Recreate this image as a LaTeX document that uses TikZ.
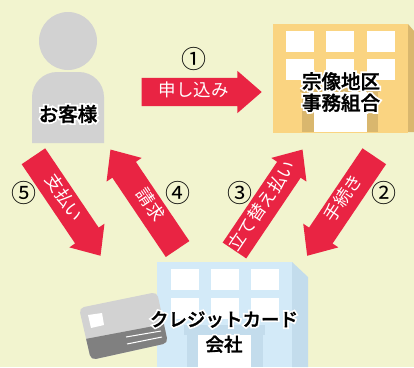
\documentclass[tikz,border=0pt]{standalone}
\usepackage{fontspec}
\usetikzlibrary{shapes.arrows}
\setmainfont{Noto Sans CJK JP}
\newfontfamily\labelfont[FakeBold=1.5]{Noto Sans CJK JP Medium}
\newfontfamily\halofont[FakeBold=20]{Noto Sans CJK JP Medium}
\newcommand{\halotext}[1]{\leavevmode\rlap{\color{white}\halofont #1}{\labelfont #1}}
\definecolor{paper}{HTML}{F2F4CF}
\definecolor{alarm}{HTML}{E92443}
\definecolor{personGray}{HTML}{D2D2D2}
\definecolor{cardDark}{HTML}{808080}
\definecolor{sandWall}{HTML}{FAD481}
\definecolor{sandDark}{HTML}{D9B76E}
\definecolor{skyWall}{HTML}{D3EAF8}
\definecolor{skyDark}{HTML}{C3DCEC}
\tikzset{
    flowarrow/.style={single arrow, fill=alarm, text=white, inner xsep=0pt, inner ysep=6pt,
        text height=12pt, text depth=4pt, minimum height=120pt,
        single arrow head extend=7pt, single arrow tip angle=82, single arrow head indent=0pt,
        font=\fontsize{17.5}{18}\selectfont},
    stepnum/.style={inner sep=0pt, font=\fontsize{25}{26}\selectfont},
    namelabel/.style={inner sep=0pt, align=center, font=\fontsize{19.5}{21.5}\selectfont}
}
\begin{document}
\begin{tikzpicture}[x=1pt,y=-1pt]
    \useasboundingbox (0,0) rectangle (414,367);
    \fill[paper] (0,0) rectangle (414,367);
    % customer
    \fill[personGray] (68,41) circle (29);
    \fill[personGray, rounded corners=25pt] (32,143) -- (32,72) -- (104,72) -- (104,143);
    % orange building
    \fill[sandDark] (408,24) -- (414,31) -- (414,132) -- (408,132) -- cycle;
    \fill[sandWall] (273,24) rectangle (408,133);
    \fill[sandDark] (300,88) rectangle (380,92);
    \fill[sandDark] (302,92) rectangle (378,132);
    \fill[white] (314,92) rectangle (367,132);
    \foreach \x in {286,326,367} {
        \fill[white] (\x,31) rectangle ++(28,21);
        \fill[white] (\x,59) rectangle ++(28,21);
    }
    % blue building
    \fill[skyDark] (292,262) -- (308,277) -- (308,367) -- (292,367) -- cycle;
    \fill[skyWall] (157,262) rectangle (292,367);
    \fill[skyDark] (184,325) rectangle (265,335);
    \fill[skyDark] (187,335) rectangle (263,367);
    \fill[white] (198,335) rectangle (251,367);
    \foreach \x in {171,211,251} {
        \fill[white] (\x,269) rectangle ++(28,21);
        \fill[white] (\x,298) rectangle ++(28,21);
    }
    % card
    \begin{scope}
        \clip[rounded corners=5pt] (79,308) -- (157,292) -- (168,343) -- (91,360) -- cycle;
        \fill[personGray] (70,285) rectangle (175,365);
        \fill[cardDark] (80,340) -- (170,323) -- (175,365) -- (85,365) -- cycle;
    \end{scope}
    \fill[white] (88,315) -- (102,313) -- (104,325) -- (91,328) -- cycle;
    \draw[white, line width=1pt] (126,337) -- (161,331);
    \draw[white, line width=1pt] (127,344) -- (162,337);
    % arrows
    \foreach \name/\tipx/\tipy/\rot/\flip/\txt in {
        apply/262/92/0/0/申し込み,
        proc/307/256/56/180/手続き,
        advance/302.7/149.3/56/0/立て替え払い,
        bill/110.3/149.3/-56/180/請求,
        pay/100.7/256/-56/0/支払い} {
        \node[flowarrow, anchor=tip, rotate=\rot, shape border rotate=\flip] (\name) at (\tipx,\tipy) {\txt};
    }
    % numbers
    \foreach \name/\x/\y/\txt in {one/194/59/①,two/384/193/②,three/240/193/③,four/178/193/④,five/24/193/⑤} {
        \node[stepnum] (\name) at (\x,\y) {\txt};
    }
    % names
    \node[namelabel] (customer) at (68,114) {\halotext{お客様}};
    \node[namelabel] (office) at (341,92) {\halotext{宗像地区}\\\halotext{事務組合}};
    \node[namelabel, font=\fontsize{18.5}{25}\selectfont] (company) at (224,332) {\halotext{クレジットカード}\\\halotext{会社}};
\end{tikzpicture}
\end{document}
